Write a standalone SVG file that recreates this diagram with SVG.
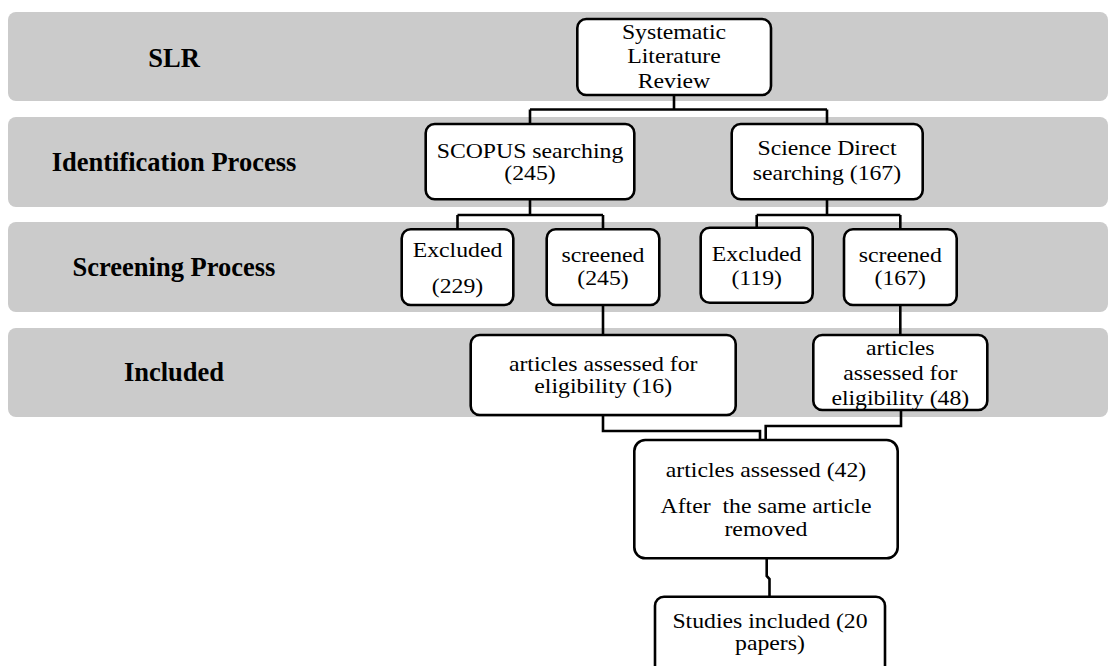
<svg xmlns="http://www.w3.org/2000/svg" width="1111" height="666" viewBox="0 0 1111 666">
<style>
.band{fill:#cbcbcb;}
.blabel{font-family:"Liberation Serif","Times New Roman",serif;font-weight:bold;font-size:26.5px;fill:#000;text-anchor:middle;}
.box{fill:#fff;stroke:#000;stroke-width:2.6;}
.t{font-family:"Liberation Serif","Times New Roman",serif;font-size:22px;fill:#000;text-anchor:middle;white-space:pre;transform-box:fill-box;transform-origin:center;transform:scaleX(1.08);}
.conn{fill:none;stroke:#000;stroke-width:2.6;}
</style>
<rect width="1111" height="666" fill="#fff"/>
<g id="bands">
<g id="band-slr"><rect class="band" x="8" y="12" width="1100" height="89" rx="8"/><text class="blabel" x="174" y="67">SLR</text></g>
<g id="band-identification"><rect class="band" x="8" y="117" width="1100" height="90" rx="8"/><text class="blabel" x="174" y="171">Identification Process</text></g>
<g id="band-screening"><rect class="band" x="8" y="222" width="1100" height="90" rx="8"/><text class="blabel" x="174" y="276">Screening Process</text></g>
<g id="band-included"><rect class="band" x="8" y="328" width="1100" height="89" rx="8"/><text class="blabel" x="174" y="381">Included</text></g>
</g>
<g id="connectors">
<path class="conn" d="M674,95 V109.5 M530,109.5 H827 M530,109.5 V124 M827,109.5 V124"/>
<path class="conn" d="M530,199 V215 M457.5,215 H603 M457.5,215 V229 M603,215 V229"/>
<path class="conn" d="M827,199 V215 M756.7,215 H900.3 M756.7,215 V228 M900.3,215 V229"/>
<path class="conn" d="M603,305 V335"/>
<path class="conn" d="M900.3,305 V335"/>
<path class="conn" d="M603,415 V431 H760 V440"/>
<path class="conn" d="M901,410 V426 H765.7 V440"/>
<path class="conn" d="M766.7,558 V576 L769.5,579 V597"/>
</g>
<g id="node-slr"><rect class="box" x="577.3" y="19" width="193.7" height="76" rx="9"/>
<text class="t" x="674" y="39">Systematic</text><text class="t" x="674" y="63.5">Literature</text><text class="t" x="674" y="88">Review</text></g>
<g id="node-scopus"><rect class="box" x="425.7" y="124" width="208.6" height="75.3" rx="9"/>
<text class="t" x="530" y="158.3">SCOPUS searching</text><text class="t" x="530" y="180.5">(245)</text></g>
<g id="node-sciencedirect"><rect class="box" x="731.7" y="124" width="191" height="75.3" rx="9"/>
<text class="t" x="827" y="155">Science Direct</text><text class="t" x="827" y="180">searching (167)</text></g>
<g id="node-excluded-229"><rect class="box" x="401.7" y="229.3" width="111.6" height="75.7" rx="9"/>
<text class="t" x="457.5" y="257.3">Excluded</text><text class="t" x="457.5" y="293">(229)</text></g>
<g id="node-screened-245"><rect class="box" x="546.7" y="229.3" width="112.6" height="75.7" rx="9"/>
<text class="t" x="603" y="262.3">screened</text><text class="t" x="603" y="285.5">(245)</text></g>
<g id="node-excluded-119"><rect class="box" x="700.7" y="227.7" width="112" height="75" rx="9"/>
<text class="t" x="756.7" y="261">Excluded</text><text class="t" x="756.7" y="285">(119)</text></g>
<g id="node-screened-167"><rect class="box" x="844" y="229.3" width="112.7" height="75.7" rx="9"/>
<text class="t" x="900.3" y="261.7">screened</text><text class="t" x="900.3" y="285.5">(167)</text></g>
<g id="node-articles-16"><rect class="box" x="470.7" y="335" width="265" height="80" rx="9"/>
<text class="t" x="603.2" y="371">articles assessed for</text><text class="t" x="603.2" y="392.7">eligibility (16)</text></g>
<g id="node-articles-48"><rect class="box" x="813.3" y="335" width="174" height="75" rx="9"/>
<text class="t" x="900.3" y="355">articles</text><text class="t" x="900.3" y="380">assessed for</text><text class="t" x="900.3" y="405">eligibility (48)</text></g>
<g id="node-articles-42"><rect class="box" x="634.3" y="440" width="263.4" height="118.3" rx="11"/>
<text class="t" x="766" y="476.7">articles assessed (42)</text><text class="t" x="766" y="513.3">After  the same article</text><text class="t" x="766" y="536">removed</text></g>
<g id="node-studies"><rect class="box" x="655" y="596.7" width="230" height="80" rx="9"/>
<text class="t" x="770" y="628.3">Studies included (20</text><text class="t" x="770" y="650">papers)</text></g>
</svg>
